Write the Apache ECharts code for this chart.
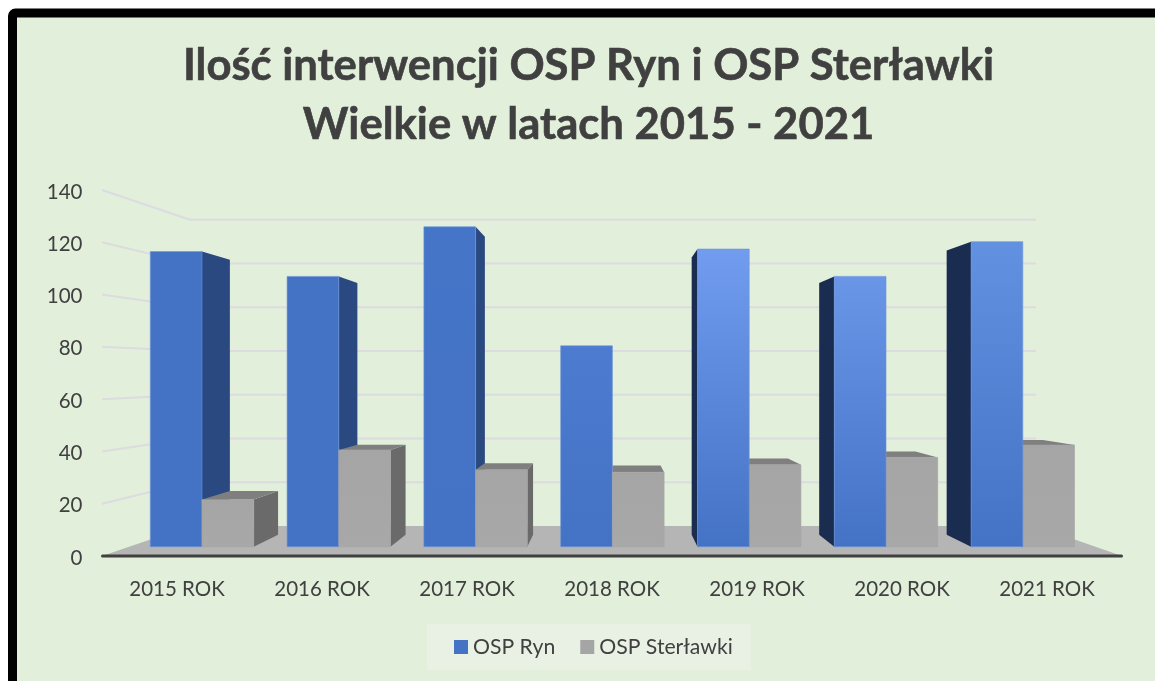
<!DOCTYPE html>
<html>
<head>
<meta charset="utf-8">
<style>
  html, body { margin: 0; padding: 0; background: #fff; overflow: hidden; }
  #chart { width: 1155px; height: 681px; }
</style>
<script src="https://cdn.jsdelivr.net/npm/echarts@6/dist/echarts.min.js"></script>
</head>
<body>
<div id="chart"></div>
<script>
const categories = ['2015 ROK', '2016 ROK', '2017 ROK', '2018 ROK', '2019 ROK', '2020 ROK', '2021 ROK']
const ospRyn = [119, 109, 129, 81, 120, 109, 123]
const ospSterlawki = [19, 39, 31, 30, 33, 36, 41]
const wallTicks = [20, 40, 60, 80, 100, 120, 140]

// front colour at the top of each blue bar, the picture lightens it to the right
const blueTop = ['#4472c4', '#4472c4', '#4575c8', '#4c7bd0', '#719cf0', '#6a96e8', '#6391e2']

const FONT = 'Lato'
const VP = [612, 372]   // vanishing point of the 3D view
const BAR_DEPTH = 0.068
const WALL_DEPTH = 0.163
const WALL_LEFT = 190
const WALL_RIGHT = 1036

const chart = echarts.init(document.getElementById('chart'))

function toBack(p, d) {
  return [p[0] + (VP[0] - p[0]) * d, p[1] + (VP[1] - p[1]) * d]
}

function poly(points, fill, z2) {
  return { type: 'polygon', shape: { points }, style: { fill }, z2 }
}

// one 3D bar: only the faces that this viewpoint can see
function bar3d(api, side, col) {
  const i = api.value(0)
  const top = api.coord([i, api.value(1)])
  const base = api.coord([i, 0])
  const w = api.size([1, 0])[0] * 0.378
  const x0 = side < 0 ? top[0] - w : top[0]
  const x1 = x0 + w
  const y0 = top[1]
  const y1 = base[1]
  // painter's order: the bar nearer the middle of the view goes last
  const z2 = (side < 0) === (x0 < VP[0]) ? 10 : 20
  const kids = []
  if (x1 < VP[0]) {
    kids.push(poly([[x1, y0], toBack([x1, y0], BAR_DEPTH), toBack([x1, y1], BAR_DEPTH), [x1, y1]], col.right, z2))
  }
  if (x0 > VP[0]) {
    kids.push(poly([[x0, y0], toBack([x0, y0], BAR_DEPTH), toBack([x0, y1], BAR_DEPTH), [x0, y1]], col.left, z2))
  }
  if (y0 > VP[1]) {
    kids.push(poly([[x0, y0], [x1, y0], toBack([x1, y0], BAR_DEPTH), toBack([x0, y0], BAR_DEPTH)], col.top, z2))
  }
  kids.push({
    type: 'rect',
    shape: { x: x0, y: y0, width: w, height: y1 - y0 },
    style: {
      fill: new echarts.graphic.LinearGradient(0, 0, 0, 1, [
        { offset: 0, color: col.front(i) },
        { offset: 1, color: col.bottom }
      ]),
      stroke: col.edge,
      lineWidth: 0.6
    },
    z2: z2 + 1
  })
  return { type: 'group', children: kids }
}

const blueColors = { front: i => blueTop[i], bottom: '#4472c4', right: '#294980', left: '#1a2c50', top: '#2f5597', edge: '#6a93dc' }
const grayColors = { front: () => '#a5a5a5', bottom: '#a8a8a8', right: '#6a6a6a', left: '#6a6a6a', top: '#7f7f7f', edge: '#a5a5a5' }

const titleStyle = { fontFamily: FONT, fontSize: 43.6, fontWeight: 'bold', color: '#404040', textBorderColor: '#404040', textBorderWidth: 0.6 }

chart.setOption({
  animation: false,
  backgroundColor: '#fff',
  textStyle: { fontFamily: FONT },
  graphic: [{
    type: 'rect',
    z: -10,
    shape: { x: 12.5, y: 13, width: 1400, height: 1000, r: 3 },
    style: { fill: '#e2efda', stroke: '#000', lineWidth: 9 }
  }],
  title: [
    { text: 'Ilość interwencji OSP Ryn i OSP Sterławki', left: 583.5, top: 39, textAlign: 'center', textStyle: titleStyle },
    { text: 'Wielkie w latach 2015 - 2021', left: 583.5, top: 98, textAlign: 'center', textStyle: titleStyle }
  ],
  legend: {
    left: 427,
    top: 624,
    padding: [12.5, 18, 12.5, 27],
    backgroundColor: '#e9f1e4',
    itemWidth: 14,
    itemHeight: 14,
    itemGap: 25,
    textStyle: { fontFamily: FONT, fontSize: 21.2, color: '#404040' },
    data: [{ name: 'OSP Ryn', icon: 'rect' }, { name: 'OSP Sterławki', icon: 'rect' }]
  },
  grid: [
    { left: 104.5, width: 1015, top: 190, height: 366 },
    { left: 133.6, width: 957.6, top: 199.5, height: 347.2 }
  ],
  xAxis: [
    { type: 'category', gridIndex: 0, data: categories,
      axisLine: { show: false }, axisTick: { show: false },
      axisLabel: { fontFamily: FONT, fontSize: 20.5, color: '#404040', margin: 23 } },
    { type: 'category', gridIndex: 1, data: categories, show: false }
  ],
  yAxis: [
    { type: 'value', gridIndex: 0, min: 0, max: 140, interval: 20,
      axisLine: { show: false }, axisTick: { show: false }, splitLine: { show: false },
      axisLabel: {
        margin: 22,
        formatter: '{v|{value}}',
        rich: { v: { fontFamily: FONT, fontSize: 20.5, color: '#404040', padding: [4, 0, 0, 0] } }
      } },
    { type: 'value', gridIndex: 1, min: 0, max: 140, interval: 20, show: false, splitLine: { show: false } }
  ],
  series: [
    {
      type: 'custom', xAxisIndex: 0, yAxisIndex: 0, z: 1, silent: true,
      data: wallTicks.map(v => [0, v]),
      encode: { x: 0, y: 1 },
      renderItem(params, api) {
        const y = api.coord([0, api.value(1)])[1]
        const back = y + (VP[1] - y) * WALL_DEPTH
        return {
          type: 'polyline',
          shape: { points: [[params.coordSys.x - 2.5, y], [WALL_LEFT, back], [WALL_RIGHT, back]] },
          style: { fill: 'none', stroke: '#dcdbe0', lineWidth: 2 }
        }
      }
    },
    {
      type: 'custom', xAxisIndex: 0, yAxisIndex: 0, z: 1, silent: true,
      data: [[0, 0]],
      encode: { x: 0, y: 1 },
      renderItem(params, api) {
        const cs = params.coordSys
        const y = api.coord([0, 0])[1]
        const back = y + (VP[1] - y) * WALL_DEPTH
        return {
          type: 'group',
          children: [
            poly([[cs.x - 2.5, y], [WALL_LEFT, back], [WALL_RIGHT, back], [cs.x + cs.width + 2.5, y]], '#b5b5b5', 1),
            { type: 'line', shape: { x1: cs.x - 2, y1: y, x2: cs.x + cs.width + 2, y2: y },
              style: { stroke: '#404040', lineWidth: 3, lineCap: 'round' }, z2: 2 }
          ]
        }
      }
    },
    {
      name: 'OSP Ryn', type: 'custom', xAxisIndex: 1, yAxisIndex: 1, z: 2,
      itemStyle: { color: '#4472c4' },
      data: ospRyn.map((v, i) => [i, v]),
      encode: { x: 0, y: 1 },
      renderItem: (params, api) => bar3d(api, -1, blueColors)
    },
    {
      name: 'OSP Sterławki', type: 'custom', xAxisIndex: 1, yAxisIndex: 1, z: 2,
      itemStyle: { color: '#a5a5a5' },
      data: ospSterlawki.map((v, i) => [i, v]),
      encode: { x: 0, y: 1 },
      renderItem: (params, api) => bar3d(api, 1, grayColors)
    }
  ]
})
</script>
</body>
</html>
